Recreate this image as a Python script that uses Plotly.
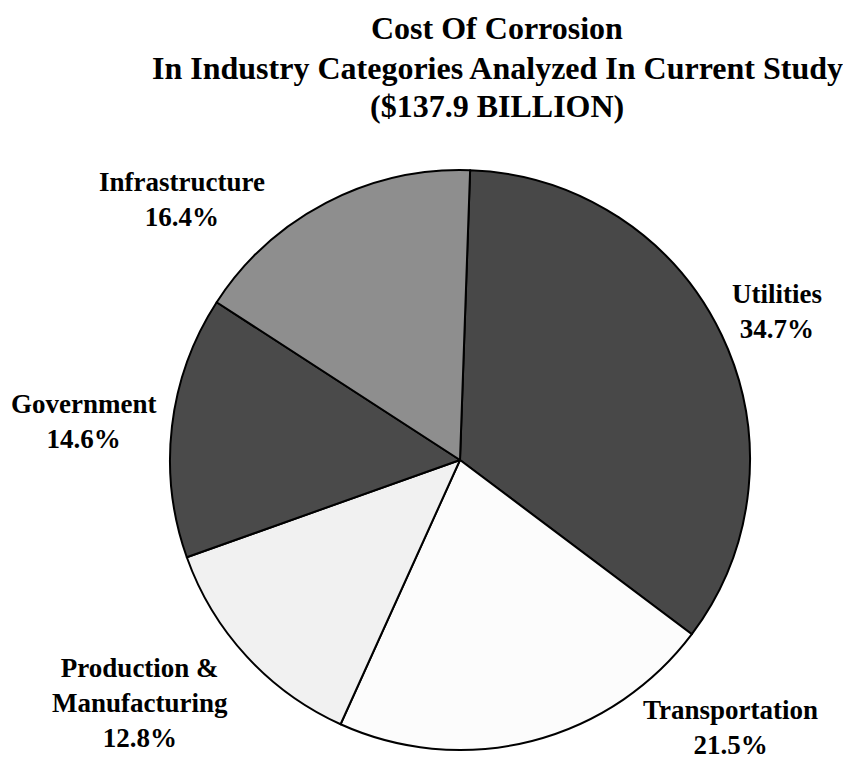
"""Cost of corrosion pie chart (plotly)"""

import plotly.graph_objects as go

# data
labels = ["Utilities", "Transportation", "Production &<br>Manufacturing", "Government", "Infrastructure"]
shares = [34.7, 21.5, 12.8, 14.6, 16.4]
colors = ["#484848", "#fcfcfc", "#f1f1f1", "#4a4a4a", "#8e8e8e"]
title_lines = ["Cost Of Corrosion", "In Industry Categories Analyzed In Current Study", "($137.9 BILLION)"]

# label positions (screen px, centre of the text block)
label_pos = [(777, 311), (730, 727), (140, 703), (83, 421), (182, 199)]
title_y = [28, 68, 106]

# page body has an 8px margin, so the figure is drawn 8px in from the corner
OFF = 8
W, H = 851 - OFF, 763 - OFF
cx, cy, r = 460 - OFF, 460 - OFF, 290


def px(x):
    return (x - OFF) / W


def py(y):
    return 1 - (y - OFF) / H


fig = go.Figure(
    go.Pie(
        labels=labels,
        values=shares,
        sort=False,
        direction="clockwise",
        rotation=2,
        marker=dict(colors=colors, line=dict(color="#000000", width=2)),
        textinfo="none",
        hoverinfo="label+percent",
        domain=dict(x=[(cx - r) / W, (cx + r) / W], y=[1 - (cy + r) / H, 1 - (cy - r) / H]),
    )
)

font = dict(family="Liberation Serif", size=27, color="#000000")

for lab, val, (x, y) in zip(labels, shares, label_pos):
    fig.add_annotation(
        x=px(x), y=py(y), xref="paper", yref="paper",
        text=f"<b>{lab}<br>{val:.1f}%</b>",
        showarrow=False, font=font, align="center",
        xanchor="center", yanchor="middle", borderpad=0,
    )

# title, one annotation per line to get the tighter line spacing
for line, y in zip(title_lines, title_y):
    fig.add_annotation(
        x=px(497), y=py(y), xref="paper", yref="paper",
        text=f"<b>{line}</b>",
        showarrow=False, font=dict(family="Liberation Serif", size=32, color="#000000"),
        xanchor="center", yanchor="middle",
    )

fig.update_layout(
    width=W, height=H,
    margin=dict(l=0, r=0, t=0, b=0),
    showlegend=False,
    paper_bgcolor="#ffffff",
    plot_bgcolor="#ffffff",
)

fig.write_html("out.html")
